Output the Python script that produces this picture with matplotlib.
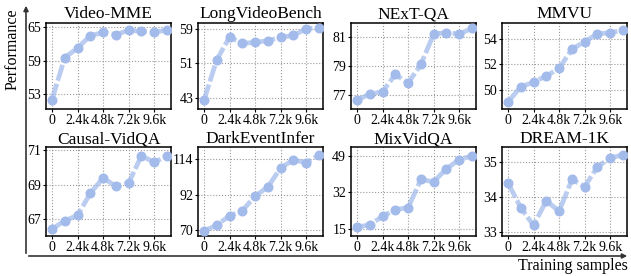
import numpy as np
import matplotlib.pyplot as plt
from matplotlib.patches import FancyArrowPatch

plt.rcParams['font.family'] = ['Liberation Serif', 'DejaVu Serif']

x_samples = [0, 1200, 2400, 3600, 4800, 6000, 7200, 8400, 9600, 10800]
x_ticks = [0, 2400, 4800, 7200, 9600]
x_ticklabels = ['0', '2.4k', '4.8k', '7.2k', '9.6k']

titles = ['Video-MME', 'LongVideoBench', 'NExT-QA', 'MMVU',
          'Causal-VidQA', 'DarkEventInfer', 'MixVidQA', 'DREAM-1K']

video_mme = [51.9, 59.5, 61.3, 63.5, 64.1, 63.7, 64.5, 64.3, 64.2, 64.5]
longvideobench = [42.4, 51.8, 57.0, 55.6, 55.8, 56.2, 57.0, 57.4, 59.0, 59.2]
nextqa = [76.6, 77.05, 77.2, 78.4, 77.8, 79.1, 81.2, 81.3, 81.2, 81.6]
mmvu = [49.05, 50.25, 50.6, 51.1, 51.7, 53.2, 53.8, 54.4, 54.5, 54.7]
causal_vidqa = [66.4, 66.9, 67.2, 68.5, 69.4, 68.9, 69.1, 70.7, 70.3, 70.7]
dark_event = [69.4, 73.1, 78.9, 82.0, 91.2, 96.8, 108.8, 113.6, 112.0, 116.7]
mixvidqa = [16.1, 17.0, 21.0, 24.1, 25.0, 38.0, 36.9, 43.0, 47.2, 48.9]
dream_1k = [34.41, 33.7, 33.2, 33.9, 33.6, 34.5, 34.3, 34.86, 35.11, 35.2]

series = [video_mme, longvideobench, nextqa, mmvu,
          causal_vidqa, dark_event, mixvidqa, dream_1k]
y_ticks = [[53, 59, 65], [43, 51, 59], [77, 79, 81], [50, 52, 54],
           [67, 69, 71], [70, 92, 114], [15, 32, 49], [33, 34, 35]]
y_lims = [(50.2, 65.9), (40.4, 60.4), (76.0, 82.0), (48.5, 55.3),
          (66.0, 71.2), (66.3, 121.7), (11.9, 53.0), (32.9, 35.42)]

W, H = 631, 276
fig = plt.figure(figsize=(W / 100, H / 100), dpi=100)

lefts = [46, 198, 351, 502]
width = 125
rows = [(22.5, 109), (147, 236)]

line_color = '#a3bbea'
for i, (vals, title) in enumerate(zip(series, titles)):
    r, c = divmod(i, 4)
    top, bottom = rows[r]
    ax = fig.add_axes([lefts[c] / W, 1 - bottom / H, width / W, (bottom - top) / H])
    ax.plot(x_samples, vals, linestyle=(0, (3.5, 0.7)), linewidth=3.4,
            color=line_color, alpha=0.75, zorder=2)
    ax.plot(x_samples, vals, linestyle='none', marker='o', markersize=6.2,
            color=line_color, zorder=3)
    ax.set_xticks(x_ticks)
    ax.set_xticklabels(x_ticklabels)
    ax.set_xlim(-560, 11170)
    ax.set_yticks(y_ticks[i])
    ax.set_ylim(*y_lims[i])
    ax.grid(True, linestyle=':', color='#999999', linewidth=0.8)
    ax.set_axisbelow(True)
    ax.tick_params(labelsize=10, length=2.5, width=0.8, pad=1)
    for s in ax.spines.values():
        s.set_linewidth(1.1)
    ax.set_title(title, fontsize=12.5, pad=2)

# global axis arrows
fig.patches.append(FancyArrowPatch(
    (26 / W, 1 - 256 / H), (26 / W, 1 - 3 / H), transform=fig.transFigure,
    arrowstyle='-|>', mutation_scale=7, linewidth=1.2, color='#333333'))
fig.patches.append(FancyArrowPatch(
    (26 / W, 1 - 256 / H), (630 / W, 1 - 256 / H), transform=fig.transFigure,
    arrowstyle='-|>', mutation_scale=7, linewidth=1.2, color='#333333'))

fig.text(13 / W, 1 - 49 / H, 'Performance', rotation=90, fontsize=11.5,
         ha='center', va='center')
fig.text(628 / W, 1 - 266 / H, 'Training samples', fontsize=11.5,
         ha='right', va='center')

fig.savefig('out.png', dpi=100)
